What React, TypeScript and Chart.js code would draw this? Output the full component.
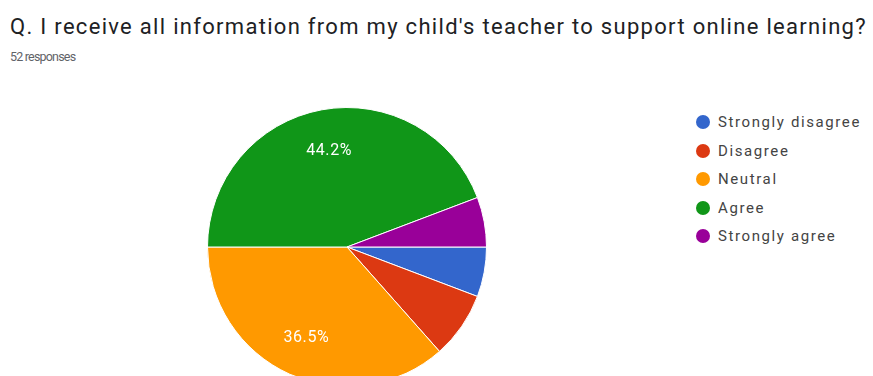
import React, { useEffect, useRef } from "react";
import { Chart, registerables } from "chart.js";

Chart.register(...registerables);

const titleText = "Q. I receive all information from my child's teacher to support online learning?";
const subtitleText = "52 responses";
const categories = ["Strongly disagree", "Disagree", "Neutral", "Agree", "Strongly agree"];
const responses = [3, 4, 19, 23, 3];
const sliceColors = ["#3366cc", "#dc3912", "#ff9900", "#109618", "#990099"];

const percentLabels = {
  id: "percentLabels",
  afterDatasetsDraw(chart: any) {
    const ctx = chart.ctx;
    const meta = chart.getDatasetMeta(0);
    const data = chart.data.datasets[0].data as number[];
    const total = data.reduce((a, b) => a + b, 0);
    ctx.save();
    ctx.fillStyle = "#ffffff";
    ctx.font = "16px Roboto, Arial, sans-serif";
    try { (ctx as any).letterSpacing = "0.6px"; } catch (e) {}
    ctx.textAlign = "center";
    ctx.textBaseline = "middle";
    meta.data.forEach((arc: any, i: number) => {
      const pct = (data[i] / total) * 100;
      if (pct < 10) return;
      const p = arc.getProps(["x", "y", "startAngle", "endAngle", "outerRadius"], true);
      const mid = (p.startAngle + p.endAngle) / 2;
      const r = p.outerRadius * 0.71;
      ctx.fillText(pct.toFixed(1) + "%", p.x + Math.cos(mid) * r, p.y + Math.sin(mid) * r + 1);
    });
    ctx.restore();
  },
};

export default function App() {
  const ref = useRef<HTMLCanvasElement>(null);
  useEffect(() => {
    document.body.style.overflow = "hidden";
    document.documentElement.style.overflow = "hidden";
    const chart = new Chart(ref.current!, {
      type: "pie",
      data: {
        labels: categories,
        datasets: [
          {
            data: responses,
            backgroundColor: sliceColors,
            borderColor: "#ffffff",
            borderWidth: 1,
          },
        ],
      },
      options: {
        responsive: false,
        animation: false,
        rotation: 90,
        layout: { padding: 0 },
        plugins: {
          legend: { display: false },
          tooltip: { enabled: false },
          title: { display: false },
        },
      },
      plugins: [percentLabels],
    });
    return () => chart.destroy();
  }, []);

  return (
    <div style={{ position: "absolute", left: 0, top: 0, width: 873, height: 376, fontFamily: "Roboto, Arial, sans-serif", background: "#fff", overflow: "hidden" }}>
      <div style={{ position: "absolute", left: 10, top: 14, fontSize: 22, letterSpacing: 1.3, color: "#202124", whiteSpace: "nowrap" }}>{titleText}</div>
      <div style={{ position: "absolute", left: 10, top: 49, fontSize: 12.5, letterSpacing: -0.8, color: "#5f6368", whiteSpace: "nowrap" }}>{subtitleText}</div>
      <div style={{ position: "absolute", left: 207, top: 107 }}>
        <canvas ref={ref} width={280} height={280} />
      </div>
      <div style={{ position: "absolute", left: 696, top: 108 }}>
        {categories.map((c, i) => (
          <div key={c} style={{ display: "flex", alignItems: "center", height: 28.5 }}>
            <span style={{ width: 14, height: 14, borderRadius: "50%", background: sliceColors[i], display: "inline-block", marginRight: 8, flexShrink: 0 }} />
            <span style={{ fontSize: 15, letterSpacing: 1.6, color: "#444", whiteSpace: "nowrap" }}>{c}</span>
          </div>
        ))}
      </div>
    </div>
  );
}
